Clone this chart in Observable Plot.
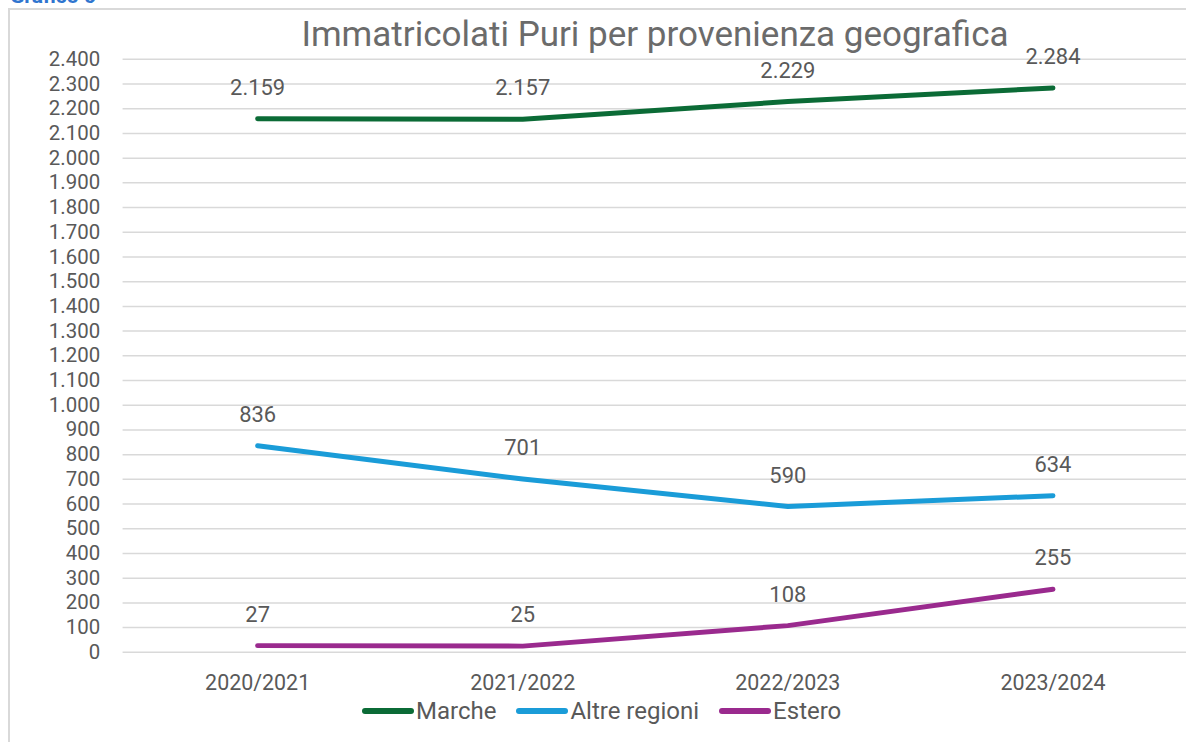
<!DOCTYPE html>
<html><head><meta charset="utf-8">
<script src="https://cdn.jsdelivr.net/npm/d3@7"></script>
<script src="https://cdn.jsdelivr.net/npm/@observablehq/plot@0.6"></script>
<style>
html,body{margin:0;padding:0;background:#fff;overflow:hidden;width:1186px;height:742px;}
body{position:relative;font-family:Roboto,sans-serif;}
#frame{position:absolute;left:8px;top:8px;width:1300px;height:800px;border-left:2px solid #d9d9d9;border-top:2px solid #d9d9d9;box-sizing:border-box;}
#grafico{position:absolute;left:10px;top:-17px;font-size:21px;font-weight:bold;color:#2f75cf;line-height:26px;}
#title{position:absolute;left:655px;top:14px;transform:translateX(-50%);font-size:35px;line-height:42px;color:#6b6b6b;white-space:nowrap;}
#chart{position:absolute;left:0;top:0;}
#chart svg{display:block;}
#legend{position:absolute;left:362px;top:698px;display:flex;align-items:center;font-size:24px;color:#595959;line-height:26px;}
#legend .item{display:flex;align-items:center;margin-right:20px;}
#legend .sw{display:inline-block;width:52px;height:6px;border-radius:3px;margin-right:2px;}
</style>
</head><body>
<div id="frame"></div>
<div id="grafico">Grafico 6</div>
<div id="chart"></div>
<div id="title">Immatricolati Puri per provenienza geografica</div>
<div id="legend"></div>
<script>
const years = ["2020/2021", "2021/2022", "2022/2023", "2023/2024"];
const seriesNames = ["Marche", "Altre regioni", "Estero"];
const marche = [2159, 2157, 2229, 2284];
const altre = [836, 701, 590, 634];
const estero = [27, 25, 108, 255];
const seriesColors = ["#0b6b36", "#1a9cd8", "#9a2a8e"];
const yTickValues = [0,100,200,300,400,500,600,700,800,900,1000,1100,1200,1300,1400,1500,1600,1700,1800,1900,2000,2100,2200,2300,2400];

const seriesValues = [marche, altre, estero];
const rows = [];
seriesNames.forEach((s, i) => years.forEach((y, j) => rows.push({series: s, year: y, value: seriesValues[i][j]})));

const it = d3.formatLocale({decimal: ",", thousands: ".", grouping: [3], currency: ["€", ""]});
const fmt = it.format(",d");

const chart = Plot.plot({
  width: 1190,
  height: 700,
  marginLeft: 123,
  marginRight: 0,
  marginTop: 59,
  marginBottom: 46,
  style: {fontFamily: "Roboto, sans-serif", background: "transparent", overflow: "visible"},
  x: {type: "point", domain: years, padding: 0.5, label: null},
  y: {domain: [0, 2400], label: null},
  color: {domain: seriesNames, range: seriesColors},
  marks: [
    Plot.gridY(yTickValues, {stroke: "#d9d9d9", strokeOpacity: 1, strokeWidth: 1.5}),
    Plot.axisY(yTickValues, {tickSize: 0, tickPadding: 23, tickFormat: fmt, fontSize: 20.5, color: "#595959", label: null}),
    Plot.axisX({tickSize: 0, tickPadding: 23, fontSize: 21.5, color: "#595959", label: null}),
    Plot.line(rows, {x: "year", y: "value", z: "series", stroke: "series", strokeWidth: 5, strokeLinecap: "round", strokeLinejoin: "round"}),
    Plot.text(rows, {x: "year", y: "value", text: d => fmt(d.value), dy: -31, fontSize: 22, fill: "#595959"})
  ]
});
document.getElementById("chart").appendChild(chart);

const legend = document.getElementById("legend");
seriesNames.forEach((s, i) => {
  const item = document.createElement("div");
  item.className = "item";
  const sw = document.createElement("span");
  sw.className = "sw";
  sw.style.background = seriesColors[i];
  const t = document.createElement("span");
  t.textContent = s;
  item.appendChild(sw); item.appendChild(t);
  legend.appendChild(item);
});
</script>
</body></html>
